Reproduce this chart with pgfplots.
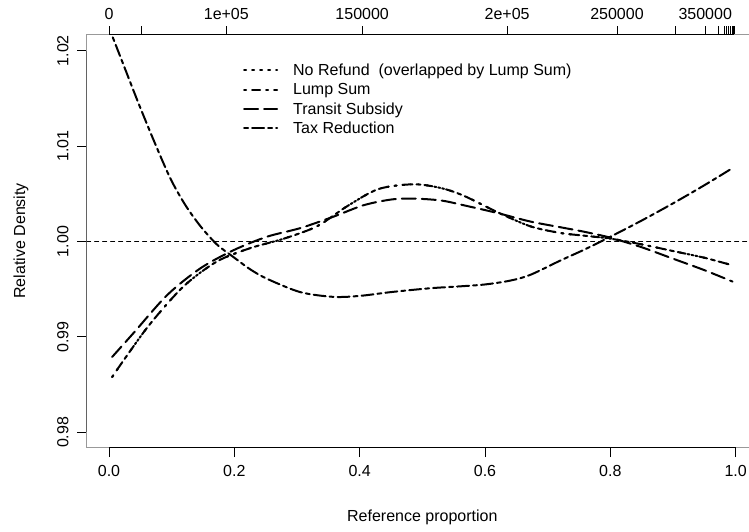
\documentclass[border=0pt]{standalone}
\usepackage{fontspec}
\setmainfont{Liberation Sans}
\usepackage{pgfplots}
\pgfplotsset{compat=1.18}
\usepackage{pgfplotstable}

\newcommand{\rfont}{\fontsize{16}{19}\selectfont}

% relative density curves
\pgfplotstableread{
x y
0.005 0.9858
0.026 0.9878
0.066 0.9914
0.119 0.9953
0.172 0.9979
0.225 0.9993
0.279 1.0003
0.332 1.0016
0.380 1.0037
0.430 1.0055
0.486 1.0060
0.530 1.0056
0.566 1.0048
0.619 1.0031
0.672 1.0016
0.720 1.0009
0.760 1.0006
0.800 1.0003
0.850 0.9997
0.900 0.9990
0.950 0.9983
0.995 0.9975
}\lumpsum

\pgfplotstableread{
x y
0.005 0.9879
0.039 0.9904
0.093 0.9944
0.146 0.9972
0.199 0.9991
0.252 1.0005
0.305 1.0014
0.358 1.0026
0.406 1.0038
0.450 1.0044
0.486 1.0045
0.530 1.0043
0.566 1.0038
0.619 1.0030
0.672 1.0021
0.720 1.0015
0.760 1.0010
0.800 1.0004
0.850 0.9994
0.900 0.9982
0.950 0.9970
0.995 0.9958
}\transit

\pgfplotstableread{
x y
0.006 1.0214
0.025 1.0182
0.047 1.0145
0.072 1.0105
0.098 1.0066
0.122 1.0038
0.146 1.0016
0.172 0.9997
0.198 0.9984
0.225 0.9971
0.252 0.9961
0.305 0.9947
0.358 0.9942
0.400 0.9943
0.450 0.9947
0.512 0.9951
0.560 0.9953
0.600 0.9955
0.640 0.9959
0.672 0.9965
0.720 0.9980
0.760 0.9992
0.800 1.0005
0.850 1.0022
0.900 1.0040
0.950 1.0059
0.995 1.0077
}\taxred

\begin{document}
\begin{tikzpicture}
\pgfplotsset{
  rbase/.style={
    scale only axis, width=671.3pt, height=413.7pt,
    at={(86.7pt,83.3pt)}, anchor=south west,
    xmin=-0.0356, xmax=1.0356, ymin=0.97839, ymax=1.02175,
    /pgf/number format/assume math mode=true,
    tick label style={font=\rfont, inner sep=0pt},
    tick style={black, line width=1pt},
    tick align=outside,
  },
}
\begin{axis}[rbase,
    axis line style={draw=black!40, line width=1pt},
    major tick length=9.5pt,
    xtick={0,0.2,0.4,0.6,0.8,1},
    xticklabels={0.0,0.2,0.4,0.6,0.8,1.0},
    ytick={0.98,0.99,1.00,1.01,1.02},
    yticklabels={0.98,0.99,1.00,1.01,1.02},
    xtick pos=left, ytick pos=left,
    xticklabel shift=7.8pt,
    yticklabel shift=8.4pt,
    yticklabel style={rotate=90, anchor=south},
    xlabel={Reference proportion},
    ylabel={Relative Density},
    every axis x label/.style={at={(axis description cs:0.5,-0.1772)}, anchor=base, inner sep=0pt, font=\rfont},
    every axis y label/.style={at={(axis description cs:-0.1093,0.5)}, rotate=90, anchor=north, inner sep=0pt, font=\rfont},
    legend style={at={(axis description cs:0.2328,0.9364)}, anchor=north west,
      draw=none, fill=none, inner sep=0pt, row sep=0pt, font=\rfont,
      nodes={inner sep=0pt, minimum height=19.4pt},
      /tikz/every odd column/.append style={column sep=15pt}},
    legend cell align=left,
    legend image code/.code={\draw[#1] (1pt,0pt) -- (34pt,0pt);},
    every axis plot/.append style={line width=2pt, line cap=round, black},
]
\addplot[line width=1pt, dash pattern=on 4pt off 4pt, forget plot] coordinates {(-0.0356,1) (1.0356,1)};
\addplot[smooth, dash pattern=on 2pt off 6pt] table[x=x, y=y] {\lumpsum};
\addlegendentry{No Refund\ \ (overlapped by Lump Sum)}
\addplot[smooth, dash pattern=on 2pt off 6pt on 8pt off 6pt] table[x=x, y=y] {\lumpsum};
\addlegendentry{Lump Sum}
\addplot[smooth, dash pattern=on 14pt off 6pt] table[x=x, y=y] {\transit};
\addlegendentry{Transit Subsidy}
\addplot[smooth, dash pattern=on 4pt off 4pt on 12pt off 4pt] table[x=x, y=y] {\taxred};
\addlegendentry{Tax Reduction}
% R draws each axis line only between its end ticks
\draw[black, line width=1pt] (axis cs:0,0.97839) -- (axis cs:1,0.97839);
\draw[black, line width=1pt] (axis cs:-0.0356,0.98) -- (axis cs:-0.0356,1.02);
\draw[black, line width=1pt] (axis cs:0,1.02175) -- (axis cs:0.9979,1.02175);
\end{axis}
% top axis: reference values at their quantiles
\begin{axis}[rbase,
    hide y axis,
    axis line style={draw=none},
    major tick length=7.5pt,
    xtick pos=right, xticklabel pos=right,
    xticklabel shift=6.5pt,
    xticklabel style={anchor=south},
    xtick={0,0.0517,0.1872,0.4040,0.6352,0.8106,0.9047,0.9514,0.9721,0.9820,0.9860,0.9892,0.9923,0.9947,0.9963,0.9979},
    xticklabels={0,{},1e+05,150000,2e+05,250000,{},350000,{},{},{},{},{},{},{},{}},
]
\end{axis}
\pgfresetboundingbox
\path[use as bounding box] (0,0) rectangle (749pt,531pt);
\end{tikzpicture}
\end{document}
